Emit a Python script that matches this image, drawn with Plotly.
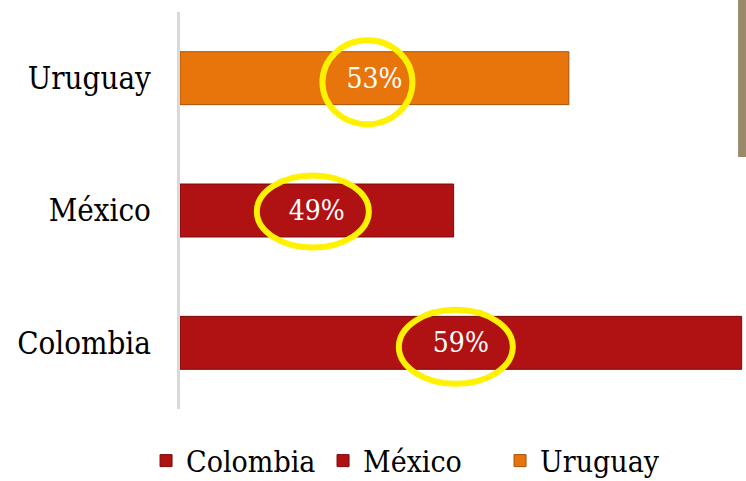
import plotly.graph_objects as go

categories = ["Colombia", "México", "Uruguay"]
values = [59, 49, 53]
labels = ["59%", "49%", "53%"]

AXIS_START = 39.5
AXIS_END = 59.15

colors = ["#B01214", "#B01214", "#E8740C"]
edge_colors = ["#7A0A0B", "#7A0A0B", "#A9520A"]
FONT = "DejaVu Serif Condensed, Liberation Serif, serif"

fig = go.Figure()
for cat, v, lab, c, ec in zip(categories, values, labels, colors, edge_colors):
    fig.add_trace(go.Bar(
        y=[cat], x=[v - AXIS_START], base=[AXIS_START], orientation="h",
        name=cat, width=0.4,
        marker=dict(color=c, line=dict(color=ec, width=1)),
        text=[lab], textposition="inside", insidetextanchor="middle",
        textfont=dict(color="white", size=28, family=FONT),
        hoverinfo="skip",
    ))

# yellow highlight circles around the value labels
circle_px = {"Colombia": (-5, 4, 57, 37), "México": (-4, 1, 56, 36), "Uruguay": (-7, 4, 45, 42)}
shapes = []
for cat, v in zip(categories, values):
    dx, dy, rx, ry = circle_px[cat]
    mid = (AXIS_START + v) / 2
    shapes.append(dict(
        type="circle", xref="x", yref="y",
        xsizemode="pixel", ysizemode="pixel",
        xanchor=mid, yanchor=cat,
        x0=dx - rx, x1=dx + rx, y0=-dy - ry, y1=-dy + ry,
        line=dict(color="#FFF200", width=6), fillcolor="rgba(0,0,0,0)",
    ))
# decorative strip at the right edge
shapes.append(dict(type="rect", xref="paper", yref="paper",
                   x0=0.986, x1=1.0, y0=0.635, y1=1.05,
                   line=dict(width=0), fillcolor="#988A6A", layer="above"))

fig.update_layout(
    width=746, height=481,
    margin=dict(l=180, r=0, t=12, b=72, autoexpand=False),
    paper_bgcolor="white", plot_bgcolor="white",
    barmode="overlay",
    showlegend=True,
    legend=dict(orientation="h", x=-0.060, xanchor="left", y=-0.13, yanchor="middle",
                font=dict(family=FONT, size=30, color="black"), traceorder="normal",
                itemwidth=30, entrywidth=132, entrywidthmode="pixels"),
    xaxis=dict(range=[AXIS_START, AXIS_END], visible=False, showgrid=False, zeroline=False),
    yaxis=dict(categoryorder="array", categoryarray=categories, range=[-0.5, 2.5],
               showline=True, linecolor="#D9D9D9", linewidth=3, showgrid=False,
               ticks="", ticklabelstandoff=20,
               tickfont=dict(family=FONT, size=31, color="black")),
    shapes=shapes,
)

fig.write_html("out.html", config={"displayModeBar": False},
               post_script="document.body.style.margin='0';document.body.style.overflow='hidden';")
